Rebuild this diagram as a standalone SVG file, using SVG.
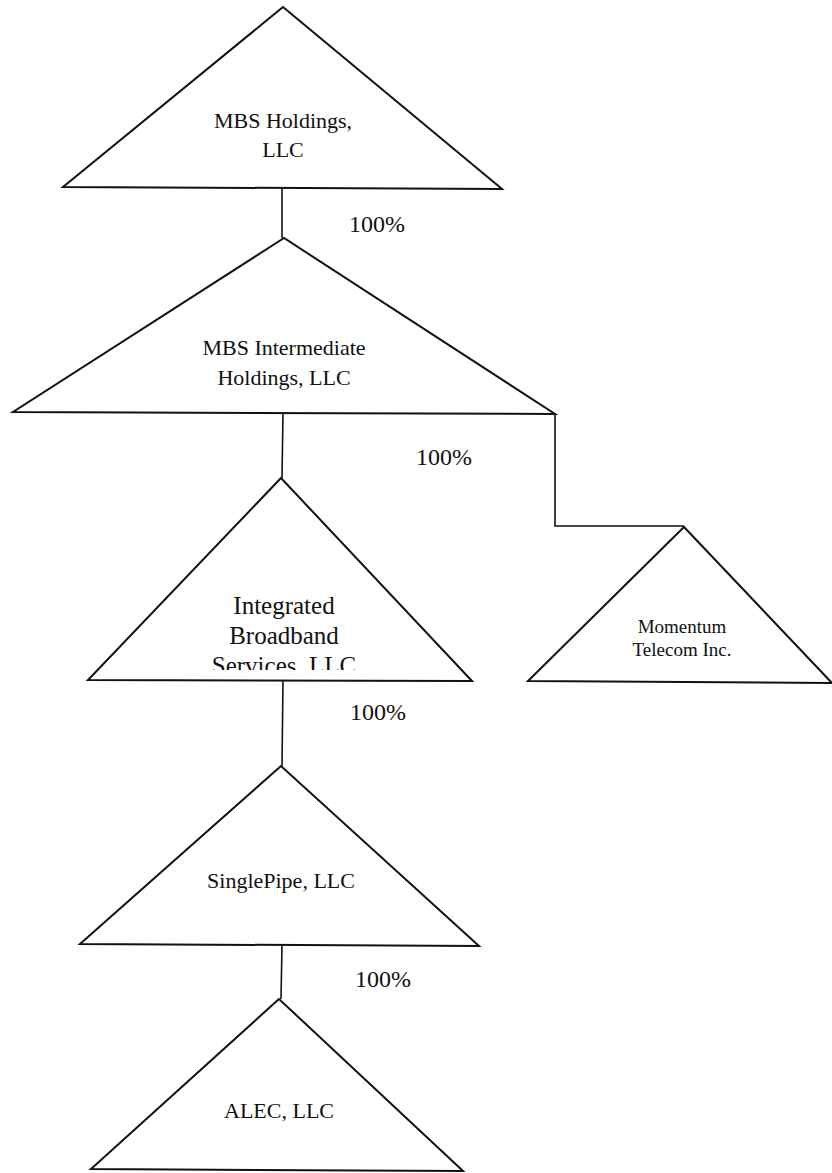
<svg xmlns="http://www.w3.org/2000/svg" width="832" height="1173" viewBox="0 0 832 1173">
<style>
.tri{fill:none;stroke:#111;stroke-width:2;stroke-linejoin:miter}
.con{fill:none;stroke:#111;stroke-width:1.6}
text{font-family:"Liberation Serif","Times New Roman",serif;fill:#111;text-anchor:middle}
.lbl{font-size:22px}
.pct{font-size:24px;text-anchor:start}
</style>
<defs>
<clipPath id="clipIBS"><rect x="0" y="0" width="832" height="670"/></clipPath>
</defs>
<rect width="832" height="1173" fill="#fff"/>
<g id="connectors">
<line class="con" x1="282" y1="188" x2="282" y2="238"/>
<line class="con" x1="283" y1="413" x2="282" y2="478"/>
<polyline class="con" points="555,414 555,526 684,526"/>
<line class="con" x1="283" y1="680" x2="282" y2="766"/>
<line class="con" x1="282" y1="945" x2="281" y2="999"/>
<text class="pct" x="349" y="232">100%</text>
<text class="pct" x="416" y="465">100%</text>
<text class="pct" x="350" y="720">100%</text>
<text class="pct" x="355" y="987">100%</text>
</g>
<g id="mbs-holdings">
<polygon class="tri" points="283,7 63,187 502,189"/>
<text class="lbl" x="283" y="128">MBS Holdings,</text>
<text class="lbl" x="283" y="157">LLC</text>
</g>
<g id="mbs-intermediate">
<polygon class="tri" points="284,238 13,412 555,414"/>
<text class="lbl" x="284" y="355">MBS Intermediate</text>
<text class="lbl" x="284" y="385">Holdings, LLC</text>
</g>
<g id="ibs">
<polygon class="tri" points="281,478 88,680 472,681"/>
<g clip-path="url(#clipIBS)">
<text x="284" y="614" font-size="25">Integrated</text>
<text x="284" y="644" font-size="25">Broadband</text>
<text x="284" y="674" font-size="25">Services, LLC</text>
</g>
</g>
<g id="momentum">
<polygon class="tri" points="684,527 528,681 832,683"/>
<text x="682" y="633" font-size="19">Momentum</text>
<text x="682" y="656" font-size="19">Telecom Inc.</text>
</g>
<g id="singlepipe">
<polygon class="tri" points="281,766 80,944 479,946"/>
<text class="lbl" x="281" y="888">SinglePipe, LLC</text>
</g>
<g id="alec">
<polygon class="tri" points="279,999 91,1169 463,1171"/>
<text class="lbl" x="279" y="1118">ALEC, LLC</text>
</g>
</svg>
